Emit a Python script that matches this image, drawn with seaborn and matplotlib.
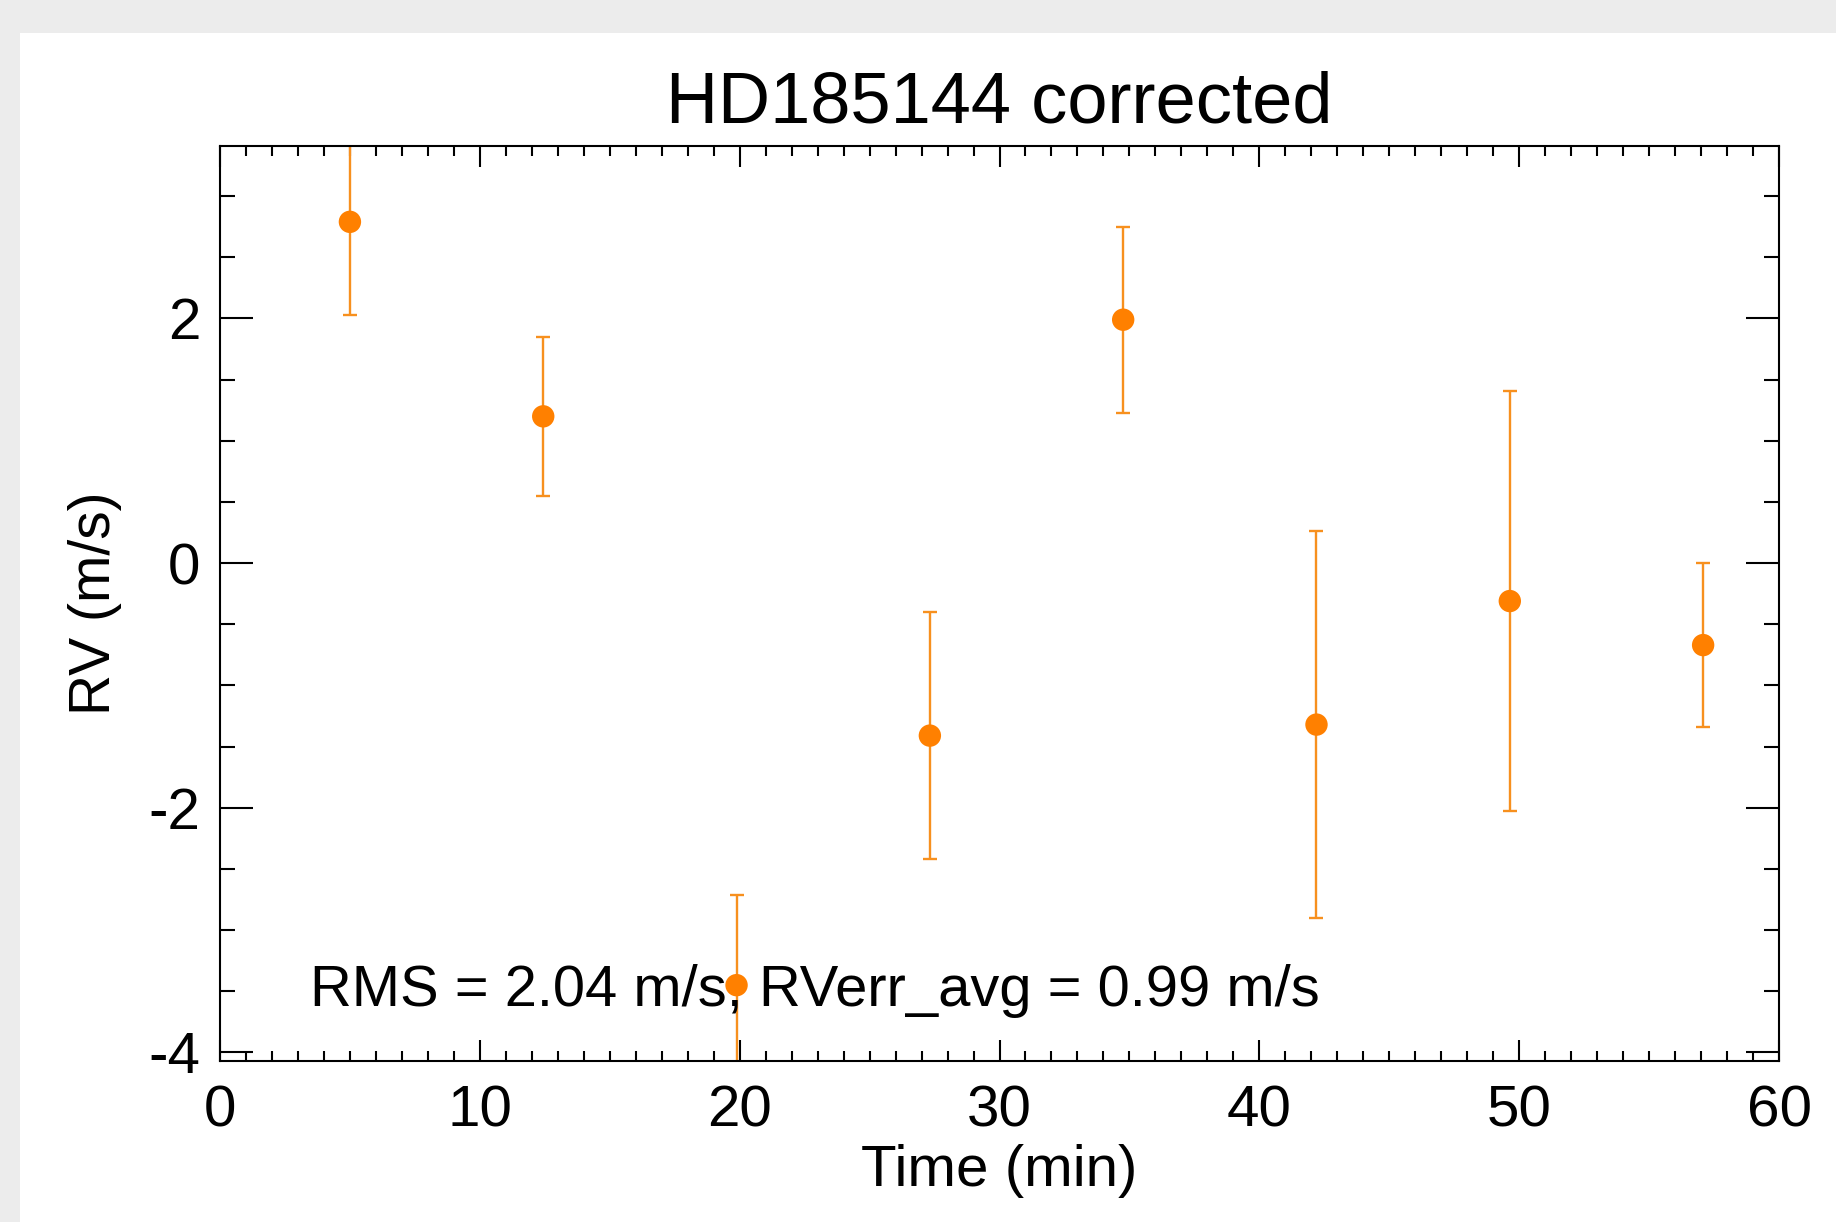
import matplotlib
matplotlib.use("Agg")
import matplotlib.pyplot as plt
import numpy as np
import pandas as pd
import seaborn as sns
from matplotlib.patches import Rectangle
from matplotlib.ticker import MultipleLocator

time_min = [5.0, 12.44, 19.88, 27.32, 34.76, 42.2, 49.64, 57.08]
rv = [2.79, 1.20, -3.45, -1.41, 1.99, -1.32, -0.31, -0.67]
rv_err = [0.76, 0.65, 0.74, 1.01, 0.76, 1.58, 1.72, 0.67]

title = "HD185144 corrected"
note = "RMS = 2.04 m/s, RVerr_avg = 0.99 m/s"
orange = "#ff8000"

df = pd.DataFrame({"time": time_min, "rv": rv, "err": rv_err})

sns.set_style("ticks")
plt.rcParams["font.family"] = ["Liberation Sans", "DejaVu Sans"]
plt.rcParams["text.color"] = "black"
plt.rcParams["axes.labelcolor"] = "black"
plt.rcParams["axes.unicode_minus"] = False

fig = plt.figure(figsize=(18.36, 12.22), dpi=100)
fig.patch.set_facecolor("#ececec")
# white panel behind the plot (grey frame at top and left)
panel = Rectangle((20 / 1836, 0), 1, 1 - 33 / 1222, transform=fig.transFigure,
                  facecolor="white", edgecolor="none", zorder=-10)
fig.add_artist(panel)

ax = fig.add_axes([220 / 1836, 1 - 1061 / 1222, 1559 / 1836, 915 / 1222])
ax.set_facecolor("white")

ax.errorbar(df["time"], df["rv"], yerr=df["err"], fmt="none",
            ecolor="#f7901e", elinewidth=1.7, capsize=5, capthick=1.7, zorder=2)
sns.scatterplot(data=df, x="time", y="rv", ax=ax, color=orange, s=260,
                edgecolor="none", zorder=4)

ax.text(3.47, -3.62, note, fontsize=41.7, va="baseline", ha="left", zorder=3)

ax.set_xlim(0, 60)
ax.set_ylim(-4.07, 3.41)
ax.xaxis.set_major_locator(MultipleLocator(10))
ax.xaxis.set_minor_locator(MultipleLocator(1))
ax.yaxis.set_major_locator(MultipleLocator(2))
ax.yaxis.set_minor_locator(MultipleLocator(0.5))

ax.tick_params(axis="both", which="both", direction="in", top=True, right=True,
               colors="black", labelsize=42)
ax.tick_params(axis="x", which="major", length=15, width=1.5, pad=17)
ax.tick_params(axis="x", which="minor", length=7.5, width=1.5)
ax.tick_params(axis="y", which="major", length=24, width=1.5, pad=14)
ax.tick_params(axis="y", which="minor", length=11, width=1.5)

for s in ax.spines.values():
    s.set_color("black")
    s.set_linewidth(1.5)
    s.set_visible(True)

ax.set_xlabel("Time (min)", fontsize=42, labelpad=4)
ax.set_ylabel("RV (m/s)", fontsize=41, labelpad=19)
ax.set_title(title, fontsize=52, pad=17)

fig.savefig("out.png", dpi=100, facecolor=fig.get_facecolor())
